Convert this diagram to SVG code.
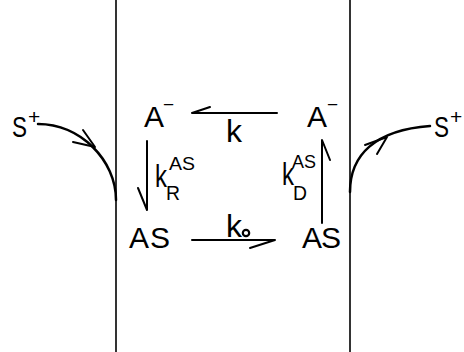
<svg xmlns="http://www.w3.org/2000/svg" width="464" height="352" viewBox="0 0 464 352">
<style>
text{font-family:"Liberation Sans","DejaVu Sans",sans-serif;fill:#000}
.m{font-size:30px}
.k{font-size:31px}
.s{font-size:19px}
.b{font-size:20px}
.ln{stroke:#000;fill:none;stroke-width:2;stroke-linecap:round;stroke-linejoin:round}
.wall{stroke:#000;stroke-width:1.6}
.cv{stroke:#000;fill:none;stroke-width:2.5;stroke-linecap:round}
</style>
<rect width="464" height="352" fill="#fff"/>
<g id="membranes">
<line class="wall" x1="116" y1="0" x2="116" y2="352"/>
<line class="wall" x1="350" y1="0" x2="350" y2="352"/>
</g>
<g id="node-S-left"><text class="m" x="12" y="137" textLength="15" lengthAdjust="spacingAndGlyphs">S</text><text x="28" y="124" font-size="21">+</text></g>
<g id="node-S-right"><text class="m" x="434" y="137" textLength="15" lengthAdjust="spacingAndGlyphs">S</text><text x="450" y="124" font-size="21">+</text></g>
<g id="node-A-left"><text class="m" x="144" y="127">A<tspan x="163" y="111" font-size="19">−</tspan></text></g>
<g id="node-A-right"><text class="m" x="307" y="127">A<tspan x="327" y="111" font-size="19">−</tspan></text></g>
<g id="node-AS-left"><text class="m" x="129 150" y="248">AS</text></g>
<g id="node-AS-right"><text class="m" x="302 321" y="248">AS</text></g>
<g id="connectors">
<path class="cv" d="M38,124 C80,124 116,160 116,200"/>
<path class="ln" d="M83,130 L95,147 L73,142"/>
<path class="cv" d="M350,192 C350,155 375,130 430,126"/>
<path class="ln" d="M365,145 L387,137 L377,154"/>
<path class="ln" d="M277,113 L192,113 L210,107"/>
<path class="ln" d="M192,240 L275,240 L250,248"/>
<path class="ln" d="M147,141 L147,210 L138,188"/>
<path class="ln" d="M322,223 L322,140 L330,160"/>
</g>
<g id="labels">
<text class="k" x="226" y="142" textLength="16" lengthAdjust="spacingAndGlyphs">k</text>
<text class="k" x="226" y="237" textLength="16" lengthAdjust="spacingAndGlyphs">k</text>
<circle cx="246" cy="233" r="3.2" fill="none" stroke="#000" stroke-width="2.2"/>
<text class="k" x="155" y="187" textLength="12" lengthAdjust="spacingAndGlyphs">k</text>
<text class="s" x="169" y="170" textLength="26" lengthAdjust="spacingAndGlyphs">AS</text>
<text class="b" x="166" y="200" textLength="14" lengthAdjust="spacingAndGlyphs">R</text>
<text class="k" x="282" y="185" textLength="12" lengthAdjust="spacingAndGlyphs">k</text>
<text class="s" x="292" y="168" textLength="24" lengthAdjust="spacingAndGlyphs">AS</text>
<text class="b" x="293" y="200" textLength="14" lengthAdjust="spacingAndGlyphs">D</text>
</g>
</svg>
